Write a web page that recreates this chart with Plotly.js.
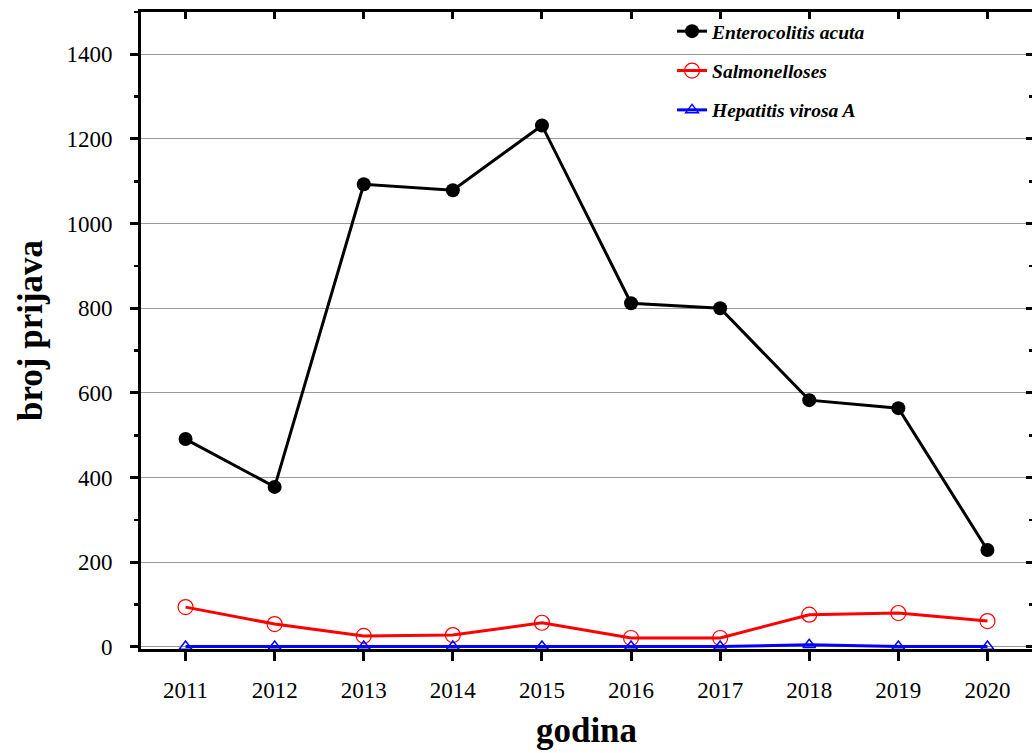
<!DOCTYPE html>
<html>
<head>
<meta charset="utf-8">
<script src="https://cdn.plot.ly/plotly-3.0.1.min.js"></script>
<style>html,body{margin:0;padding:0;background:#fff;overflow:hidden;}</style>
</head>
<body>
<div id="chart" style="width:1032px;height:753px;"></div>
<script>
const years = [2011, 2012, 2013, 2014, 2015, 2016, 2017, 2018, 2019, 2020];
const enterocolitis = [491, 378, 1093, 1079, 1232, 812, 800, 583, 564, 229];
const salmonelloses = [94, 54, 26, 28, 57, 21, 21, 76, 80, 61];
const hepatitis = [1, 1, 1, 1, 1, 1, 1, 5, 1, 1];
const seriesNames = ['Enterocolitis acuta', 'Salmonelloses', 'Hepatitis virosa A'];
const yTicks = [0, 200, 400, 600, 800, 1000, 1200, 1400];

const serif = 'Liberation Serif, Times New Roman, serif';

const traces = [
  {x: years, y: enterocolitis, name: seriesNames[0], legendgroup: 'a', mode: 'lines+markers',
   line: {color: '#000', width: 3}, marker: {symbol: 'circle', size: 14, color: '#000'}},
  {x: years, y: salmonelloses, name: seriesNames[1], legendgroup: 'b', mode: 'lines+markers',
   line: {color: '#ff0000', width: 3}, marker: {symbol: 'circle-open', size: 15, color: '#ff0000', line: {width: 1.2}}},
  {x: years, y: hepatitis, name: seriesNames[2], legendgroup: 'c', mode: 'lines+markers',
   line: {color: '#0000ff', width: 3}, marker: {symbol: 'triangle-up-open', size: 11, color: '#0000ff', line: {width: 1.5}}},
  // same data on the frame axes (top/right), invisible, so those axes are drawn
  {x: years, y: enterocolitis, xaxis: 'x2', yaxis: 'y2', mode: 'lines', opacity: 0,
   showlegend: false, hoverinfo: 'skip', line: {color: 'rgba(0,0,0,0)'}}
];

const layout = {
  width: 1032, height: 753,
  margin: {l: 141, r: 0, t: 12, b: 104},
  paper_bgcolor: '#fff', plot_bgcolor: '#fff',
  font: {family: serif, color: '#000'},
  showlegend: true,
  legend: {
    x: 0.596, y: 1.0, xanchor: 'left', yanchor: 'top',
    bgcolor: 'rgba(0,0,0,0)', borderwidth: 0,
    traceorder: 'grouped', tracegroupgap: 11,
    font: {family: serif, size: 19.5, style: 'italic', weight: 'bold', color: '#000'}
  },
  xaxis: {
    range: [2010.5, 2020.5], tickvals: years, ticktext: years.map(String),
    showgrid: false, zeroline: false,
    showline: true, linecolor: '#000', linewidth: 3,
    ticks: 'outside', ticklen: 9, tickwidth: 3, tickcolor: '#000',
    tickfont: {family: serif, size: 23, color: '#000'},
    ticklabelstandoff: 9,
    title: {text: '<b>godina</b>', font: {family: serif, size: 35, color: '#000'}, standoff: 16}
  },
  xaxis2: {
    overlaying: 'x', side: 'top', range: [2010.5, 2020.5], tickvals: years,
    showticklabels: false, showgrid: false, zeroline: false,
    showline: true, linecolor: '#000', linewidth: 3,
    ticks: 'inside', ticklen: 7, tickwidth: 3, tickcolor: '#000'
  },
  yaxis: {
    range: [-5, 1500], tickvals: yTicks,
    showgrid: true, gridcolor: '#9a9a9a', gridwidth: 1, zeroline: false,
    showline: true, linecolor: '#000', linewidth: 3,
    ticks: 'outside', ticklen: 8, tickwidth: 3, tickcolor: '#000',
    minor: {dtick: 100, tick0: 0, ticks: 'outside', ticklen: 4, tickwidth: 2.5, tickcolor: '#000', showgrid: false},
    tickfont: {family: serif, size: 23, color: '#000'},
    ticklabelstandoff: 13,
    title: {text: '<b>broj prijava</b>', font: {family: serif, size: 35, color: '#000'}, standoff: 14}
  },
  yaxis2: {
    overlaying: 'y', side: 'right', range: [-5, 1500], tickvals: yTicks,
    showticklabels: false, showgrid: false, zeroline: false, showline: false,
    ticks: 'inside', ticklen: 6, tickwidth: 3, tickcolor: '#000',
    minor: {dtick: 100, tick0: 0, ticks: 'inside', ticklen: 3, tickwidth: 2.5, tickcolor: '#000', showgrid: false}
  }
};

Plotly.newPlot('chart', traces, layout, {displayModeBar: false, staticPlot: true});
</script>
</body>
</html>
